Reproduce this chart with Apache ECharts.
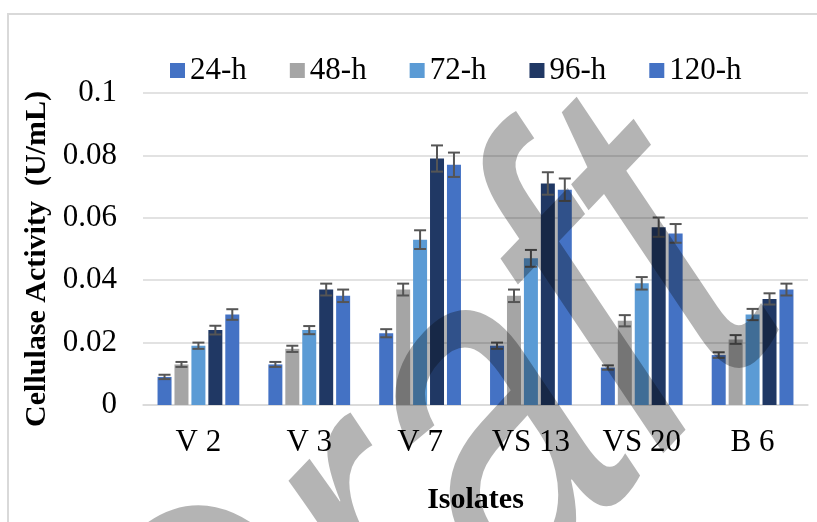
<!DOCTYPE html>
<html>
<head>
<meta charset="utf-8">
<script src="https://cdn.jsdelivr.net/npm/echarts@6/dist/echarts.min.js"></script>
<style>
  html, body { margin: 0; padding: 0; background: #fff; }
  #chart { width: 817px; height: 522px; }
</style>
</head>
<body>
<div id="chart"></div>
<script>
//	数据
var categories = ['V 2', 'V 3', 'V 7', 'VS 13', 'VS 20', 'B 6'];
var seriesNames = ['24-h', '48-h', '72-h', '96-h', '120-h'];
var h24 = [0.009, 0.013, 0.023, 0.019, 0.012, 0.016];
var h48 = [0.013, 0.018, 0.037, 0.035, 0.027, 0.021];
var h72 = [0.019, 0.024, 0.053, 0.047, 0.039, 0.029];
var h96 = [0.024, 0.037, 0.079, 0.071, 0.057, 0.034];
var h120 = [0.029, 0.035, 0.077, 0.069, 0.055, 0.037];
// 误差
var e24 = [0.0007, 0.0008, 0.0013, 0.001, 0.0007, 0.0009];
var e48 = [0.0008, 0.001, 0.0019, 0.002, 0.0018, 0.0014];
var e72 = [0.001, 0.0013, 0.003, 0.0027, 0.002, 0.0018];
var e96 = [0.0014, 0.0019, 0.0042, 0.0036, 0.0031, 0.0018];
var e120 = [0.0017, 0.002, 0.0039, 0.0036, 0.003, 0.0019];
var yTicks = [0, 0.02, 0.04, 0.06, 0.08, 0.1];

var values = [h24, h48, h72, h96, h120];
var errors = [e24, e48, e72, e96, e120];
var colors = ['#4472C4', '#A5A5A5', '#5B9BD5', '#203864', '#4472C4'];

var BAR_W = 14;
var GAP = 0.21;
var serif = '"Liberation Serif", "Times New Roman", serif';

function errorSeries(k) {
	var data = [];
	for (var i = 0; i < categories.length; i++) {
		data.push([i, values[k][i] - errors[k][i], values[k][i] + errors[k][i]]);
	}
	var offset = (k - (values.length - 1) / 2) * BAR_W * (1 + GAP);
	return {
		type: 'custom',
		z: 5,
		silent: true,
		data: data,
		renderItem: function (params, api) {
			var lo = api.coord([api.value(0), api.value(1)]);
			var hi = api.coord([api.value(0), api.value(2)]);
			var x = lo[0] + offset;
			var st = { stroke: '#555555', lineWidth: 2 };
			return {
				type: 'group',
				children: [
					{ type: 'line', shape: { x1: x, y1: lo[1], x2: x, y2: hi[1] }, style: st },
					{ type: 'line', shape: { x1: x - 6, y1: lo[1], x2: x + 6, y2: lo[1] }, style: st },
					{ type: 'line', shape: { x1: x - 6, y1: hi[1], x2: x + 6, y2: hi[1] }, style: st }
				]
			};
		}
	};
}

var series = [];
for (var k = 0; k < values.length; k++) {
	series.push({
		name: seriesNames[k],
		type: 'bar',
		barWidth: BAR_W,
		barGap: (GAP * 100) + '%',
		itemStyle: { color: colors[k] },
		data: values[k]
	});
}
for (var k = 0; k < values.length; k++) {
	series.push(errorSeries(k));
}

var chart = echarts.init(document.getElementById('chart'));
chart.setOption({
	animation: false,
	backgroundColor: '#fff',
	textStyle: { fontFamily: serif, color: '#000' },
	legend: {
		data: seriesNames,
		left: 165,
		top: 50,
		icon: 'rect',
		itemWidth: 15,
		itemHeight: 15,
		itemGap: 43,
		textStyle: { fontFamily: serif, fontSize: 31, color: '#000' }
	},
	grid: { left: 143, right: 9, top: 93, bottom: 117 },
	xAxis: {
		type: 'category',
		data: categories,
		name: 'Isolates',
		nameLocation: 'middle',
		nameGap: 80,
		nameTextStyle: { fontFamily: serif, fontSize: 30, fontWeight: 'bold', color: '#000' },
		axisLine: { lineStyle: { color: '#d9d9d9', width: 1.5 } },
		axisTick: { show: false },
		axisLabel: { fontFamily: serif, fontSize: 31, color: '#000', margin: 22 }
	},
	yAxis: {
		type: 'value',
		min: yTicks[0],
		max: yTicks[yTicks.length - 1],
		interval: 0.02,
		name: 'Cellulase Activity  (U/mL)',
		nameLocation: 'middle',
		nameGap: 90,
		nameTextStyle: { fontFamily: serif, fontSize: 30, fontWeight: 'bold', color: '#000', padding: [0, 20, 0, 0] },
		axisLine: { show: false },
		axisTick: { show: false },
		splitLine: { lineStyle: { color: '#d9d9d9', width: 1.5 } },
		axisLabel: { fontFamily: serif, fontSize: 31, color: '#000', margin: 26 }
	},
	graphic: [
		{
			type: 'rect',
			z: -1,
			shape: { x: 8, y: 14, width: 830, height: 530 },
			style: { fill: 'none', stroke: '#d9d9d9', lineWidth: 2 }
		},
		// 水印 (旋转后横向压缩)
		{
			type: 'group',
			x: 432,
			y: 505,
			scaleX: 0.8,
			z: 100,
			silent: true,
			children: [{
				type: 'text',
				rotation: 40 * Math.PI / 180,
				scaleX: 0.78,
				z: 100,
				style: {
					text: 'Draft',
					fontSize: 530,
					fontFamily: '"Liberation Sans", Arial, sans-serif',
					fill: '#b4b4b4',
					align: 'center',
					verticalAlign: 'middle',
					blend: 'multiply'
				}
			}]
		}
	],
	series: series
});

// 水印用正片叠底
var zr = chart.getZr();
var list = zr.storage.getDisplayList(true);
for (var i = 0; i < list.length; i++) {
	var el = list[i];
	if (el.style && el.style.text === 'Draft') {
		el.style.blend = 'multiply';
		el.markRedraw();
	}
}
zr.refreshImmediately();
</script>
</body>
</html>
